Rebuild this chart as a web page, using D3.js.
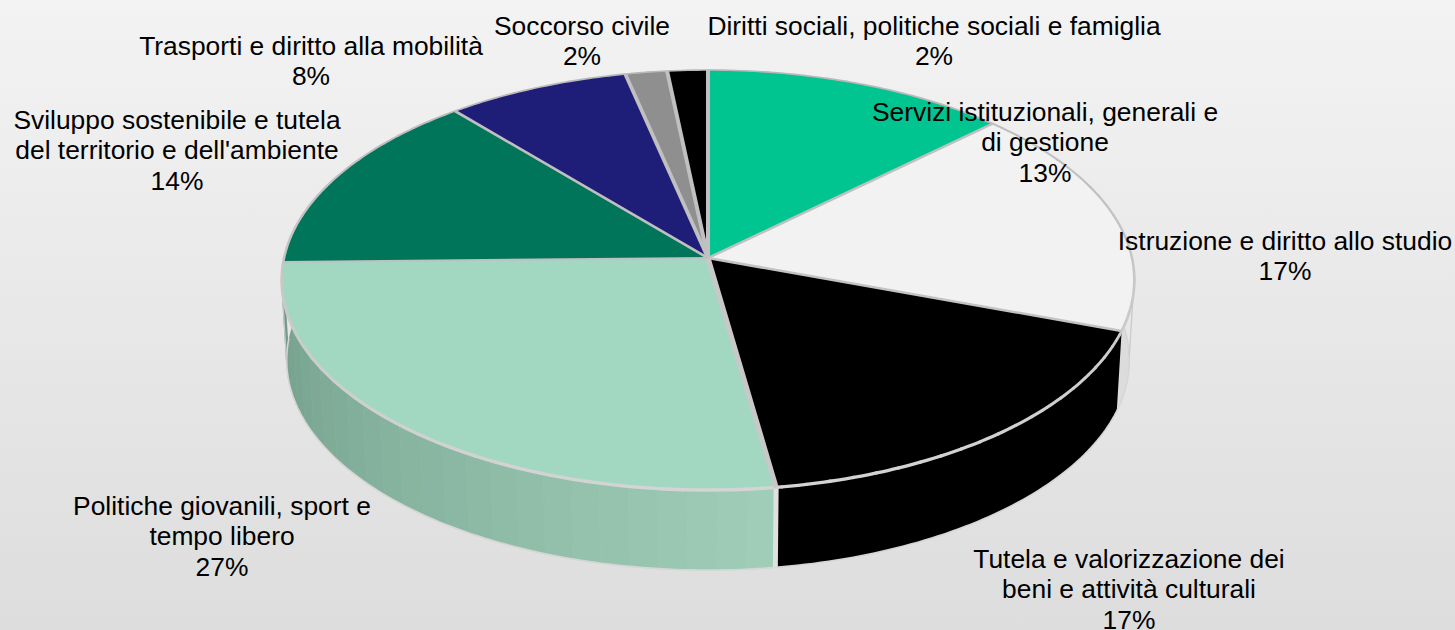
<!DOCTYPE html>
<html>
<head>
<meta charset="utf-8">
<script src="https://cdn.jsdelivr.net/npm/d3@7/dist/d3.min.js"></script>
<style>html,body{margin:0;padding:0;overflow:hidden;background:#e8e8e8}svg{display:block}</style>
</head>
<body>
<script>
const categories = ["Servizi istituzionali, generali e di gestione","Istruzione e diritto allo studio","Tutela e valorizzazione dei beni e attività culturali","Politiche giovanili, sport e tempo libero","Sviluppo sostenibile e tutela del territorio e dell'ambiente","Trasporti e diritto alla mobilità","Soccorso civile","Diritti sociali, politiche sociali e famiglia"];
const values = [12.8,17.7,17.2,27.0,14.15,7.7,1.75,1.7];
const percentLabels = ["13%","17%","17%","27%","14%","8%","2%","2%"];
const labelLines = [["Servizi istituzionali, generali e","di gestione"],["Istruzione e diritto allo studio"],["Tutela e valorizzazione dei","beni e attività culturali"],["Politiche giovanili, sport e","tempo libero"],["Sviluppo sostenibile e tutela","del territorio e dell'ambiente"],["Trasporti e diritto alla mobilità"],["Soccorso civile"],["Diritti sociali, politiche sociali e famiglia"]];
const labelCentreX = [1045,1285,1129,222,177,311,582,934];
const labelFirstBaseline = [121,250,568,515,129,55,35,35];
const topColors = ["#00c590","#f2f2f2","#000000","#a2d8c1","#00755a","#1e1e78","#8f8f8f","#000000"];
const wallColors = ["#dcdcdc","#dcdcdc","#000000",null,"#e6e6e6","#dcdcdc","#dcdcdc","#dcdcdc"];

const W=1455,H=630;
const svg=d3.select("body").append("svg").attr("width",W).attr("height",H).attr("viewBox",`0 0 ${W} ${H}`);
const defs=svg.append("defs");
const bg=defs.append("linearGradient").attr("id","bg").attr("x1",0).attr("y1",0).attr("x2",0).attr("y2",1);
bg.append("stop").attr("offset",0).attr("stop-color","#f3f3f3");
bg.append("stop").attr("offset",1).attr("stop-color","#dddddd");
svg.append("rect").attr("width",W).attr("height",H).attr("fill","url(#bg)");

// perspective projection of the pie disc
const cx=708, k=0.105;
const topDisc={y0:258,rx:424,ry:207.7};
const botDisc={y0:338,rx:419,ry:207.7};
function project(disc,a){
  const c=Math.sin(a), s=Math.cos(a), d=1+k*s;
  return [cx+disc.rx*c/d, disc.y0-disc.ry*s/d];
}
const pie=d3.pie().sort(null).value(d=>d);
const arcs=pie(values);
const line=d3.line();
const STEP=Math.PI/180;
function arcPts(disc,a0,a1){
  const n=Math.max(2,Math.ceil((a1-a0)/STEP));
  return d3.range(n+1).map(i=>project(disc,a0+(a1-a0)*i/n));
}
// walls
const wallG=svg.append("g");
const facetColor=d3.scaleLinear().domain([Math.PI*0.96,Math.PI*1.5]).range(["#9fcdb7","#6f9b88"]).clamp(true);
arcs.forEach((d,i)=>{
  if(wallColors[i]){
    const pts=arcPts(topDisc,d.startAngle,d.endAngle).concat(arcPts(botDisc,d.startAngle,d.endAngle).reverse());
    wallG.append("path").attr("d",line(pts)+"Z").attr("fill",wallColors[i]).attr("stroke","none");
  }else{
    const n=Math.round((d.endAngle-d.startAngle)/(3.6*STEP));
    d3.range(n).forEach(j=>{
      const a0=d.startAngle+(d.endAngle-d.startAngle)*j/n, a1=d.startAngle+(d.endAngle-d.startAngle)*(j+1)/n;
      const pts=arcPts(topDisc,a0,a1).concat(arcPts(botDisc,a0,a1).reverse());
      const col=facetColor((a0+a1)/2);
      wallG.append("path").attr("d",line(pts)+"Z").attr("fill",col).attr("stroke",col).attr("stroke-width",0.6);
    });
  }
});
// bottom rim
const frontStart=Math.PI*0.5, frontEnd=Math.PI*1.5;
wallG.append("path").attr("d",line(arcPts(botDisc,frontStart*0.9,frontEnd*1.0))).attr("fill","none").attr("stroke","#d6d6d6").attr("stroke-width",1.6);
// left and right silhouette edges
[arcs[3].endAngle-6*STEP,arcs[0].endAngle+49*STEP].forEach(a=>{
  wallG.append("path").attr("d",line([project(topDisc,a),project(botDisc,a)])).attr("stroke","#c8c8c8").attr("stroke-width",1.2).attr("fill","none");
});
// vertical separators on the walls
wallG.append("path").attr("d",line([project(topDisc,arcs[3].startAngle),project(botDisc,arcs[3].startAngle)])).attr("stroke","#e0e0e0").attr("stroke-width",5).attr("fill","none");

// top faces
const topG=svg.append("g");
arcs.forEach((d,i)=>{
  const pts=[[cx,topDisc.y0]].concat(arcPts(topDisc,d.startAngle,d.endAngle));
  topG.append("path").attr("d",line(pts)+"Z").attr("fill",topColors[i]);
});
// rim with width growing toward the viewer
const rimG=svg.append("g");
const rimWidth=d3.scaleLinear().domain([1,-1]).range([1.6,3.4]);
const rimColor=d3.scaleLinear().domain([1,-1]).range(["#b8b8b8","#d4d4d4"]);
d3.range(0,360,3).forEach(deg=>{
  const a0=deg*STEP,a1=(deg+3)*STEP,s=Math.cos((a0+a1)/2);
  rimG.append("path").attr("d",line(arcPts(topDisc,a0,a1))).attr("fill","none").attr("stroke",rimColor(s)).attr("stroke-width",rimWidth(s)).attr("stroke-linecap","round");
});
// slice borders, foreshortened by their direction on the disc
arcs.forEach(d=>{
  const a=d.startAngle,c=Math.sin(a),s=Math.cos(a);
  const perp=topDisc.rx*topDisc.ry/Math.hypot(topDisc.rx*c,topDisc.ry*s);
  const p=project(topDisc,a);
  const near=Math.max(0,-s);
  rimG.append("path").attr("d",line([[cx,topDisc.y0],p])).attr("fill","none")
    .attr("stroke",d3.interpolateRgb("#c0c0c0","#c8c8c8")(near))
    .attr("stroke-width",perp*0.0095+near*1.2);
});

// labels
const textG=svg.append("g").attr("font-family","'Liberation Sans',Arial,sans-serif").attr("font-size",26.4).attr("fill","#000").attr("text-anchor","middle");
categories.forEach((name,i)=>{
  const t=textG.append("text").attr("x",labelCentreX[i]).attr("y",labelFirstBaseline[i]);
  labelLines[i].concat([percentLabels[i]]).forEach((ln,j)=>{
    t.append("tspan").attr("x",labelCentreX[i]).attr("dy",j?30.3:0).text(ln);
  });
});
</script>
</body>
</html>
